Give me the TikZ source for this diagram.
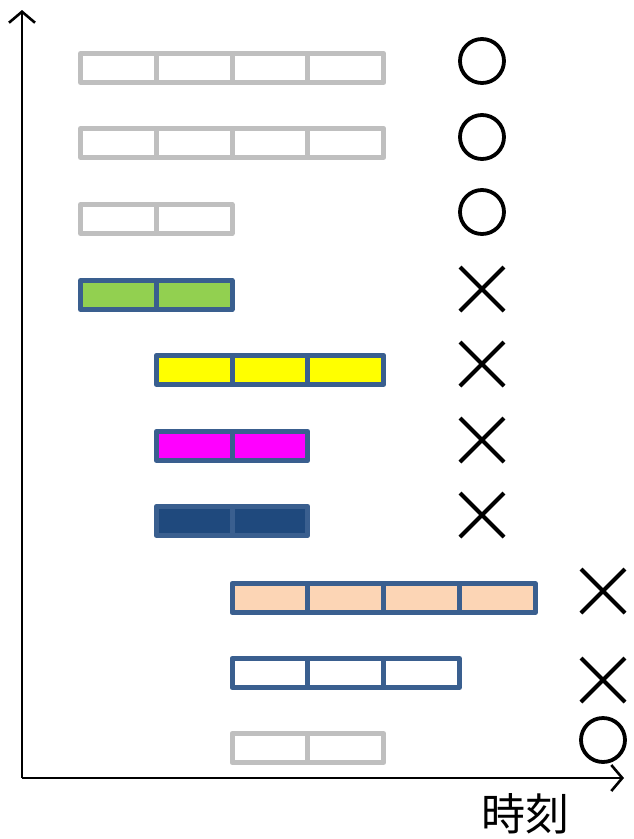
\documentclass[tikz,border=0pt]{standalone}
\usepackage{fontspec}
\newfontfamily\cjk{Noto Sans CJK JP}
\usetikzlibrary{arrows.meta}
\definecolor{cgray}{HTML}{BFBFBF}
\definecolor{cblue}{HTML}{3A5F8F}
\definecolor{cgreen}{HTML}{92D050}
\definecolor{cyellow}{HTML}{FFFF00}
\definecolor{cmag}{HTML}{FF00FF}
\definecolor{cnavy}{HTML}{1F497D}
\definecolor{cpeach}{HTML}{FCD5B5}
\tikzset{
  cell/.style={draw, rectangle, minimum width=75.8pt, minimum height=29pt, inner sep=0pt, outer sep=0pt, line width=5pt, line join=round},
  graycell/.style={cell, draw=cgray, fill=white},
  bluecell/.style={cell, draw=cblue},
  okmark/.style={draw, circle, minimum size=44pt, inner sep=0pt, line width=3.8pt},
  ngmark/.style={line width=4.2pt},
  axis/.style={line width=2.6pt, -{Straight Barb[length=11pt,width=26pt,line width=2.6pt]}},
}
\newcommand\drawbar[5]{% name, y, x0, n, style
  \foreach \i in {1,...,#4}{
    \node[#5] (#1c\i) at ({#3+75.8*(\i-0.5)},#2) {};
  }
}
\newcommand\ngat[3]{% name, x, y
  \coordinate (#1) at (#2,#3);
  \draw[ngmark] ([shift={(-22,-22)}]#1) -- ([shift={(22,22)}]#1);
  \draw[ngmark] ([shift={(-22,22)}]#1) -- ([shift={(22,-22)}]#1);
}
\begin{document}
\begin{tikzpicture}[x=1pt,y=-1pt]
\useasboundingbox (0,0) rectangle (633,839);
% axes
\coordinate (o) at (22,778);
\coordinate (ytop) at (22,10);
\coordinate (xend) at (624,778);
\draw[axis] (o) -- (ytop);
\draw[axis] (o) -- (xend);
\node[font=\cjk\fontsize{44}{46}\selectfont, inner sep=0pt] (lbl) at (525,814) {時刻};
% bars
\drawbar{r1}{68}{80.5}{4}{graycell}
\drawbar{r2}{143}{80.5}{4}{graycell}
\drawbar{r3}{219}{80.5}{2}{graycell}
\drawbar{r4}{295}{80.5}{2}{bluecell, fill=cgreen}
\drawbar{r5}{370}{156.3}{3}{bluecell, fill=cyellow}
\drawbar{r6}{446}{156.3}{2}{bluecell, fill=cmag}
\drawbar{r7}{521}{156.3}{2}{bluecell, fill=cnavy}
\drawbar{r8}{598}{232.1}{4}{bluecell, fill=cpeach}
\drawbar{r9}{673}{232.1}{3}{bluecell, fill=white}
\drawbar{r10}{748}{232.1}{2}{graycell}
% marks
\node[okmark] (m1) at (482,61) {};
\node[okmark] (m2) at (482,137) {};
\node[okmark] (m3) at (482,212) {};
\ngat{m4}{482}{289}
\ngat{m5}{482}{364}
\ngat{m6}{482}{440}
\ngat{m7}{482}{515}
\ngat{m8}{603}{591}
\ngat{m9}{603}{680}
\node[okmark] (m10) at (603,740) {};
\end{tikzpicture}
\end{document}
